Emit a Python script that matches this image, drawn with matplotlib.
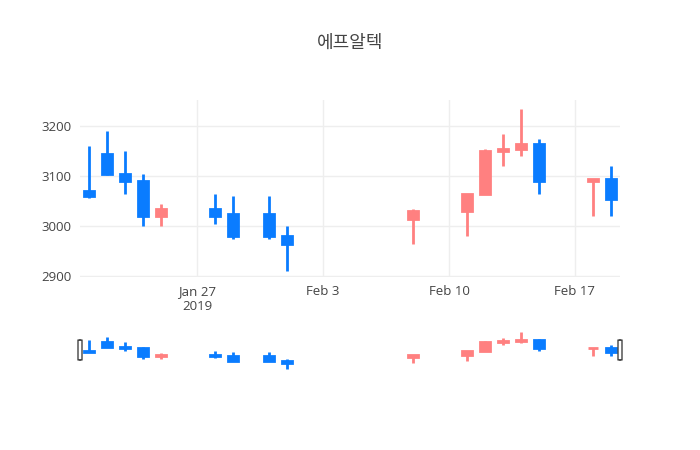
import matplotlib
matplotlib.use("Agg")
import matplotlib.pyplot as plt
import matplotlib.dates as mdates
from matplotlib.patches import FancyBboxPatch
import datetime as dt

# daily OHLC
dates = ["2019-01-21", "2019-01-22", "2019-01-23", "2019-01-24", "2019-01-25",
         "2019-01-28", "2019-01-29", "2019-01-31", "2019-02-01", "2019-02-08",
         "2019-02-11", "2019-02-12", "2019-02-13", "2019-02-14", "2019-02-15",
         "2019-02-18", "2019-02-19"]
opens = [3070, 3145, 3105, 3090, 3020, 3035, 3025, 3025, 2980, 3015,
         3030, 3065, 3150, 3155, 3165, 3090, 3095]
highs = [3160, 3190, 3150, 3105, 3045, 3065, 3060, 3060, 3000, 3035,
         3065, 3155, 3185, 3235, 3175, 3095, 3120]
lows = [3057, 3102, 3065, 3000, 3000, 3005, 2975, 2975, 2910, 2965,
        2980, 3065, 3120, 3140, 3065, 3020, 3020]
closes = [3060, 3105, 3090, 3020, 3035, 3020, 2980, 2980, 2965, 3030,
          3065, 3150, 3155, 3165, 3090, 3095, 3055]

tick_dates = ["2019-01-27", "2019-02-03", "2019-02-10", "2019-02-17"]
tick_labels = ["Jan 27\n2019", "Feb 3", "Feb 10", "Feb 17"]
y_ticks = [2900, 3000, 3100, 3200]

UP = "#ff8080"
DOWN = "#0a7cff"
W, H = 700, 450

x = [mdates.date2num(dt.datetime.strptime(d, "%Y-%m-%d")) for d in dates]
xt = [mdates.date2num(dt.datetime.strptime(d, "%Y-%m-%d")) for d in tick_dates]
xlim = (x[0] - 0.5, x[-1] + 0.5)
ylim = (2899, 3252)

plt.rcParams["font.family"] = ["Open Sans", "DejaVu Sans"]

fig = plt.figure(figsize=(7, 4.5), dpi=100)
ax = fig.add_axes([80 / W, (H - 277) / H, 540 / W, 177 / H])
sl = fig.add_axes([80 / W, (H - 370) / H, 540 / W, 40 / H])


def draw_candles(a, lw):
    for xi, o, h, l, c in zip(x, opens, highs, lows, closes):
        col = UP if c >= o else DOWN
        a.vlines(xi, l, h, color=col, linewidth=lw, zorder=3)
        a.bar(xi, abs(c - o), width=0.55, bottom=min(o, c), color=col,
              edgecolor=col, linewidth=lw, zorder=4)


draw_candles(ax, 2)
ax.set_xlim(xlim)
ax.set_ylim(ylim)
ax.set_yticks(y_ticks)
ax.set_xticks(xt)
ax.set_xticklabels(tick_labels)
ax.grid(True, color="#eeeeee", linewidth=1)
ax.set_axisbelow(True)
for s in ax.spines.values():
    s.set_visible(False)
ax.tick_params(length=0, labelsize=9.5, colors="#444444", pad=6)

draw_candles(sl, 2)
sl.set_xlim(xlim)
sl.set_ylim(ylim)
sl.set_xticks([])
sl.set_yticks([])
for s in sl.spines.values():
    s.set_visible(False)
for hx in (0.0, 1.0):
    sl.add_patch(FancyBboxPatch((hx - 2 / 540, 0.25), 4 / 540, 0.5,
                                boxstyle="round,pad=0,rounding_size=0.004",
                                transform=sl.transAxes, facecolor="white",
                                edgecolor="#444444", linewidth=1,
                                clip_on=False, zorder=6))

fig.text(0.5, 1 - 43 / H, "에프알텍", ha="center", va="center", fontsize=13,
         color="#444444", family=["Noto Sans CJK KR", "DejaVu Sans"])

fig.savefig("out.png", dpi=100)
